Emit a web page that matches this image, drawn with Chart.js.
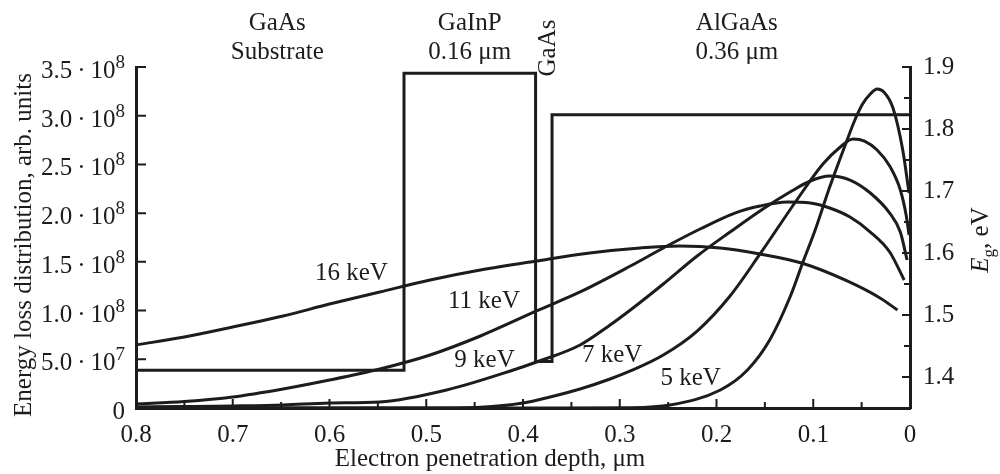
<!DOCTYPE html>
<html>
<head>
<meta charset="utf-8">
<script src="https://cdn.jsdelivr.net/npm/chart.js@4/dist/chart.umd.min.js"></script>
<style>
  html, body { margin: 0; padding: 0; background: #fff; }
  #wrap { width: 1000px; height: 474px; }
</style>
</head>
<body>
<div id="wrap"><canvas id="chart" width="1000" height="474"></canvas></div>
<script>
// depth in um, energy loss in arb. units
let depth16 = [0.8, 0.75, 0.7, 0.648, 0.6, 0.548, 0.496, 0.444, 0.386, 0.331, 0.279, 0.238, 0.196, 0.155, 0.112, 0.065, 0.031, 0.013];
let loss16  = [6.47e7, 7.29e7, 8.31e7, 9.44e7, 1.067e8, 1.191e8, 1.314e8, 1.416e8, 1.509e8, 1.591e8, 1.642e8, 1.663e8, 1.642e8, 1.581e8, 1.488e8, 1.304e8, 1.129e8, 1.006e8];

let depth11 = [0.8, 0.75, 0.7, 0.648, 0.6, 0.548, 0.496, 0.444, 0.386, 0.341, 0.289, 0.255, 0.217, 0.181, 0.155, 0.127, 0.103, 0.083, 0.062, 0.041, 0.021, 0.006];
let loss11  = [4.1e6, 6.7e6, 1.13e7, 1.95e7, 2.87e7, 4.0e7, 5.44e7, 7.39e7, 9.96e7, 1.191e8, 1.457e8, 1.642e8, 1.837e8, 2.001e8, 2.073e8, 2.114e8, 2.104e8, 2.053e8, 1.96e8, 1.806e8, 1.601e8, 1.314e8];

let depth9 = [0.8, 0.75, 0.7, 0.648, 0.6, 0.548, 0.479, 0.41, 0.386, 0.341, 0.31, 0.289, 0.255, 0.22, 0.186, 0.152, 0.124, 0.103, 0.083, 0.062, 0.041, 0.021, 0.01, 0.003];
let loss9  = [1.0e6, 1.5e6, 2.1e6, 3.1e6, 5.1e6, 6.2e6, 1.85e7, 3.9e7, 4.72e7, 6.47e7, 8.52e7, 1.006e8, 1.273e8, 1.56e8, 1.806e8, 2.043e8, 2.217e8, 2.33e8, 2.381e8, 2.34e8, 2.207e8, 2.001e8, 1.806e8, 1.519e8];

let depth7 = [0.8, 0.493, 0.444, 0.4, 0.372, 0.341, 0.31, 0.289, 0.255, 0.22, 0.186, 0.155, 0.117, 0.09, 0.072, 0.059, 0.047, 0.034, 0.021, 0.01, 0.004, 0.001];
let loss7  = [0, 0, 8e5, 5.1e6, 1.13e7, 1.95e7, 2.98e7, 3.8e7, 5.44e7, 7.9e7, 1.15e8, 1.581e8, 2.135e8, 2.504e8, 2.679e8, 2.761e8, 2.74e8, 2.648e8, 2.484e8, 2.238e8, 1.981e8, 1.776e8];

let depth5 = [0.8, 0.362, 0.289, 0.248, 0.196, 0.168, 0.145, 0.124, 0.111, 0.098, 0.083, 0.065, 0.057, 0.049, 0.041, 0.034, 0.027, 0.0176, 0.0075, 0.001];
let loss5  = [0, 0, 3e5, 3.1e6, 1.85e7, 3.9e7, 6.98e7, 1.139e8, 1.488e8, 1.827e8, 2.268e8, 2.751e8, 2.956e8, 3.12e8, 3.223e8, 3.274e8, 3.243e8, 3.079e8, 2.648e8, 2.207e8];

// band gap profile, right axis (eV)
let gapDepth = [0.8, 0.523, 0.523, 0.387, 0.387, 0.370, 0.370, 0];
let gapEg    = [1.411, 1.411, 1.89, 1.89, 1.425, 1.425, 1.823, 1.823];

let xTicks = [0.8, 0.7, 0.6, 0.5, 0.4, 0.3, 0.2, 0.1, 0];
let xMinor = [0.75, 0.65, 0.55, 0.45, 0.35, 0.25, 0.15, 0.05];
let yTicks = [0, 5e7, 1e8, 1.5e8, 2e8, 2.5e8, 3e8, 3.5e8];
let yMant = ['0', '5.0', '1.0', '1.5', '2.0', '2.5', '3.0', '3.5'];
let yExp  = ['', '7', '8', '8', '8', '8', '8', '8'];
let egTicks = [1.4, 1.5, 1.6, 1.7, 1.8, 1.9];
let egMinor = [1.45, 1.55, 1.65, 1.75, 1.85];

const INK = '#1c1c1c';
const FONT = "'Liberation Serif', 'Times New Roman', serif";

function pts(xs, ys) {
    return xs.map((x, i) => ({ x: x, y: ys[i] }));
}

function curve(xs, ys) {
    return {
        data: pts(xs, ys),
        yAxisID: 'y',
        borderColor: INK,
        borderWidth: 3,
        pointRadius: 0,
        fill: false,
        cubicInterpolationMode: 'monotone'
    };
}

// curve labels and layer names, anchored in data space
let curveNotes = [
    { text: '16 keV', x: 0.615, y: 1.31e8 },
    { text: '11 keV', x: 0.4775, y: 1.03e8 },
    { text: '9 keV', x: 0.471, y: 4.2e7 },
    { text: '7 keV', x: 0.339, y: 4.7e7 },
    { text: '5 keV', x: 0.258, y: 2.4e7 }
];
let layerNotes = [
    { lines: ['GaAs', 'Substrate'], x: 0.654 },
    { lines: ['GaInP', '0.16 μm'], x: 0.455 },
    { lines: ['AlGaAs', '0.36 μm'], x: 0.179 }
];

const decor = {
    id: 'decor',
    afterDraw(chart) {
        const { ctx, chartArea: a, scales } = chart;
        const x = scales.x, y = scales.y, yR = scales.yR;
        ctx.save();

        // inward tick marks
        ctx.strokeStyle = INK;
        ctx.lineWidth = 2;
        ctx.beginPath();
        xTicks.forEach(v => { let p = x.getPixelForValue(v); ctx.moveTo(p, a.bottom); ctx.lineTo(p, a.bottom - 9); });
        xMinor.forEach(v => { let p = x.getPixelForValue(v); ctx.moveTo(p, a.bottom); ctx.lineTo(p, a.bottom - 6); });
        yTicks.forEach(v => { let p = y.getPixelForValue(v); ctx.moveTo(a.left, p); ctx.lineTo(a.left + 10, p); });
        egTicks.forEach(v => { let p = yR.getPixelForValue(v); ctx.moveTo(a.right, p); ctx.lineTo(a.right - 8, p); });
        egMinor.forEach(v => { let p = yR.getPixelForValue(v); ctx.moveTo(a.right, p); ctx.lineTo(a.right - 6, p); });
        ctx.stroke();

        ctx.fillStyle = INK;
        ctx.textBaseline = 'alphabetic';

        // left tick labels with raised exponent
        let big = '25px ' + FONT, sup = '19px ' + FONT;
        yTicks.forEach((v, i) => {
            let py = y.getPixelForValue(v) + 11;
            let right = a.left - 11;
            ctx.textAlign = 'left';
            if (yExp[i]) {
                ctx.font = sup;
                let ws = ctx.measureText(yExp[i]).width;
                ctx.fillText(yExp[i], right - ws, py - 10);
                ctx.font = big;
                ctx.textAlign = 'right';
                ctx.fillText(yMant[i] + '\u2009·\u200910', right - ws, py);
            } else {
                ctx.font = big;
                ctx.textAlign = 'right';
                ctx.fillText(yMant[i], right, py);
            }
        });

        ctx.font = big;
        ctx.textAlign = 'left';
        curveNotes.forEach(n => ctx.fillText(n.text, x.getPixelForValue(n.x), y.getPixelForValue(n.y)));

        ctx.textAlign = 'center';
        layerNotes.forEach(n => {
            let px = x.getPixelForValue(n.x);
            ctx.fillText(n.lines[0], px, 30);
            ctx.fillText(n.lines[1], px, 59);
        });

        // thin GaAs layer, written upwards
        ctx.save();
        ctx.translate(x.getPixelForValue(0.378) + 11, 48);
        ctx.rotate(-Math.PI / 2);
        ctx.fillText('GaAs', 0, 0);
        ctx.restore();

        // axis titles
        ctx.save();
        ctx.translate(31, 245);
        ctx.rotate(-Math.PI / 2);
        ctx.fillText('Energy loss distribution, arb. units', 0, 0);
        ctx.restore();

        ctx.fillText('Electron penetration depth, μm', 490, 466);

        ctx.save();
        ctx.translate(988, 240);
        ctx.rotate(-Math.PI / 2);
        ctx.textAlign = 'left';
        let ital = 'italic 25px ' + FONT, small = '17px ' + FONT;
        ctx.font = ital; let wE = ctx.measureText('E').width;
        ctx.font = small; let wg = ctx.measureText('g').width;
        ctx.font = big; let wRest = ctx.measureText(', eV').width;
        let sx = -(wE + wg + wRest) / 2;
        ctx.font = ital; ctx.fillText('E', sx, 0);
        ctx.font = small; ctx.fillText('g', sx + wE, 6);
        ctx.font = big; ctx.fillText(', eV', sx + wE + wg, 0);
        ctx.restore();

        ctx.restore();
    }
};

new Chart(document.getElementById('chart'), {
    type: 'scatter',
    data: {
        datasets: [
            curve(depth16, loss16),
            curve(depth11, loss11),
            curve(depth9, loss9),
            curve(depth7, loss7),
            curve(depth5, loss5),
            {
                data: pts(gapDepth, gapEg),
                yAxisID: 'yR',
                showLine: true,
                borderColor: INK,
                borderWidth: 3,
                pointRadius: 0,
                tension: 0,
                fill: false
            }
        ]
    },
    options: {
        responsive: false,
        animation: false,
        showLine: true,
        layout: { padding: { top: 67, left: 0, right: 0, bottom: 0 } },
        plugins: { legend: { display: false }, tooltip: { enabled: false } },
        scales: {
            x: {
                type: 'linear',
                min: 0,
                max: 0.8,
                reverse: true,
                afterFit: s => { s.height = 66; },
                afterBuildTicks: s => { s.ticks = xTicks.map(v => ({ value: v })); },
                grid: { display: false, drawTicks: false },
                border: { display: true, color: INK, width: 3 },
                ticks: {
                    color: INK,
                    padding: 12,
                    font: { family: FONT, size: 25 },
                    maxRotation: 0,
                    callback: v => v === 0 ? '0' : v.toFixed(1)
                }
            },
            y: {
                position: 'left',
                min: 0,
                max: 3.5e8,
                afterFit: s => { s.width = 136; },
                afterBuildTicks: s => { s.ticks = yTicks.map(v => ({ value: v })); },
                grid: { display: false, drawTicks: false },
                border: { display: true, color: INK, width: 3 },
                ticks: { display: false }
            },
            yR: {
                position: 'right',
                min: 1.35,
                max: 1.9,
                afterFit: s => { s.width = 90; },
                afterBuildTicks: s => { s.ticks = egTicks.map(v => ({ value: v })); },
                grid: { display: false, drawTicks: false },
                border: { display: true, color: INK, width: 3 },
                ticks: {
                    color: INK,
                    padding: 13,
                    font: { family: FONT, size: 25 },
                    callback: v => v.toFixed(1)
                }
            }
        }
    },
    plugins: [decor]
});
</script>
</body>
</html>
